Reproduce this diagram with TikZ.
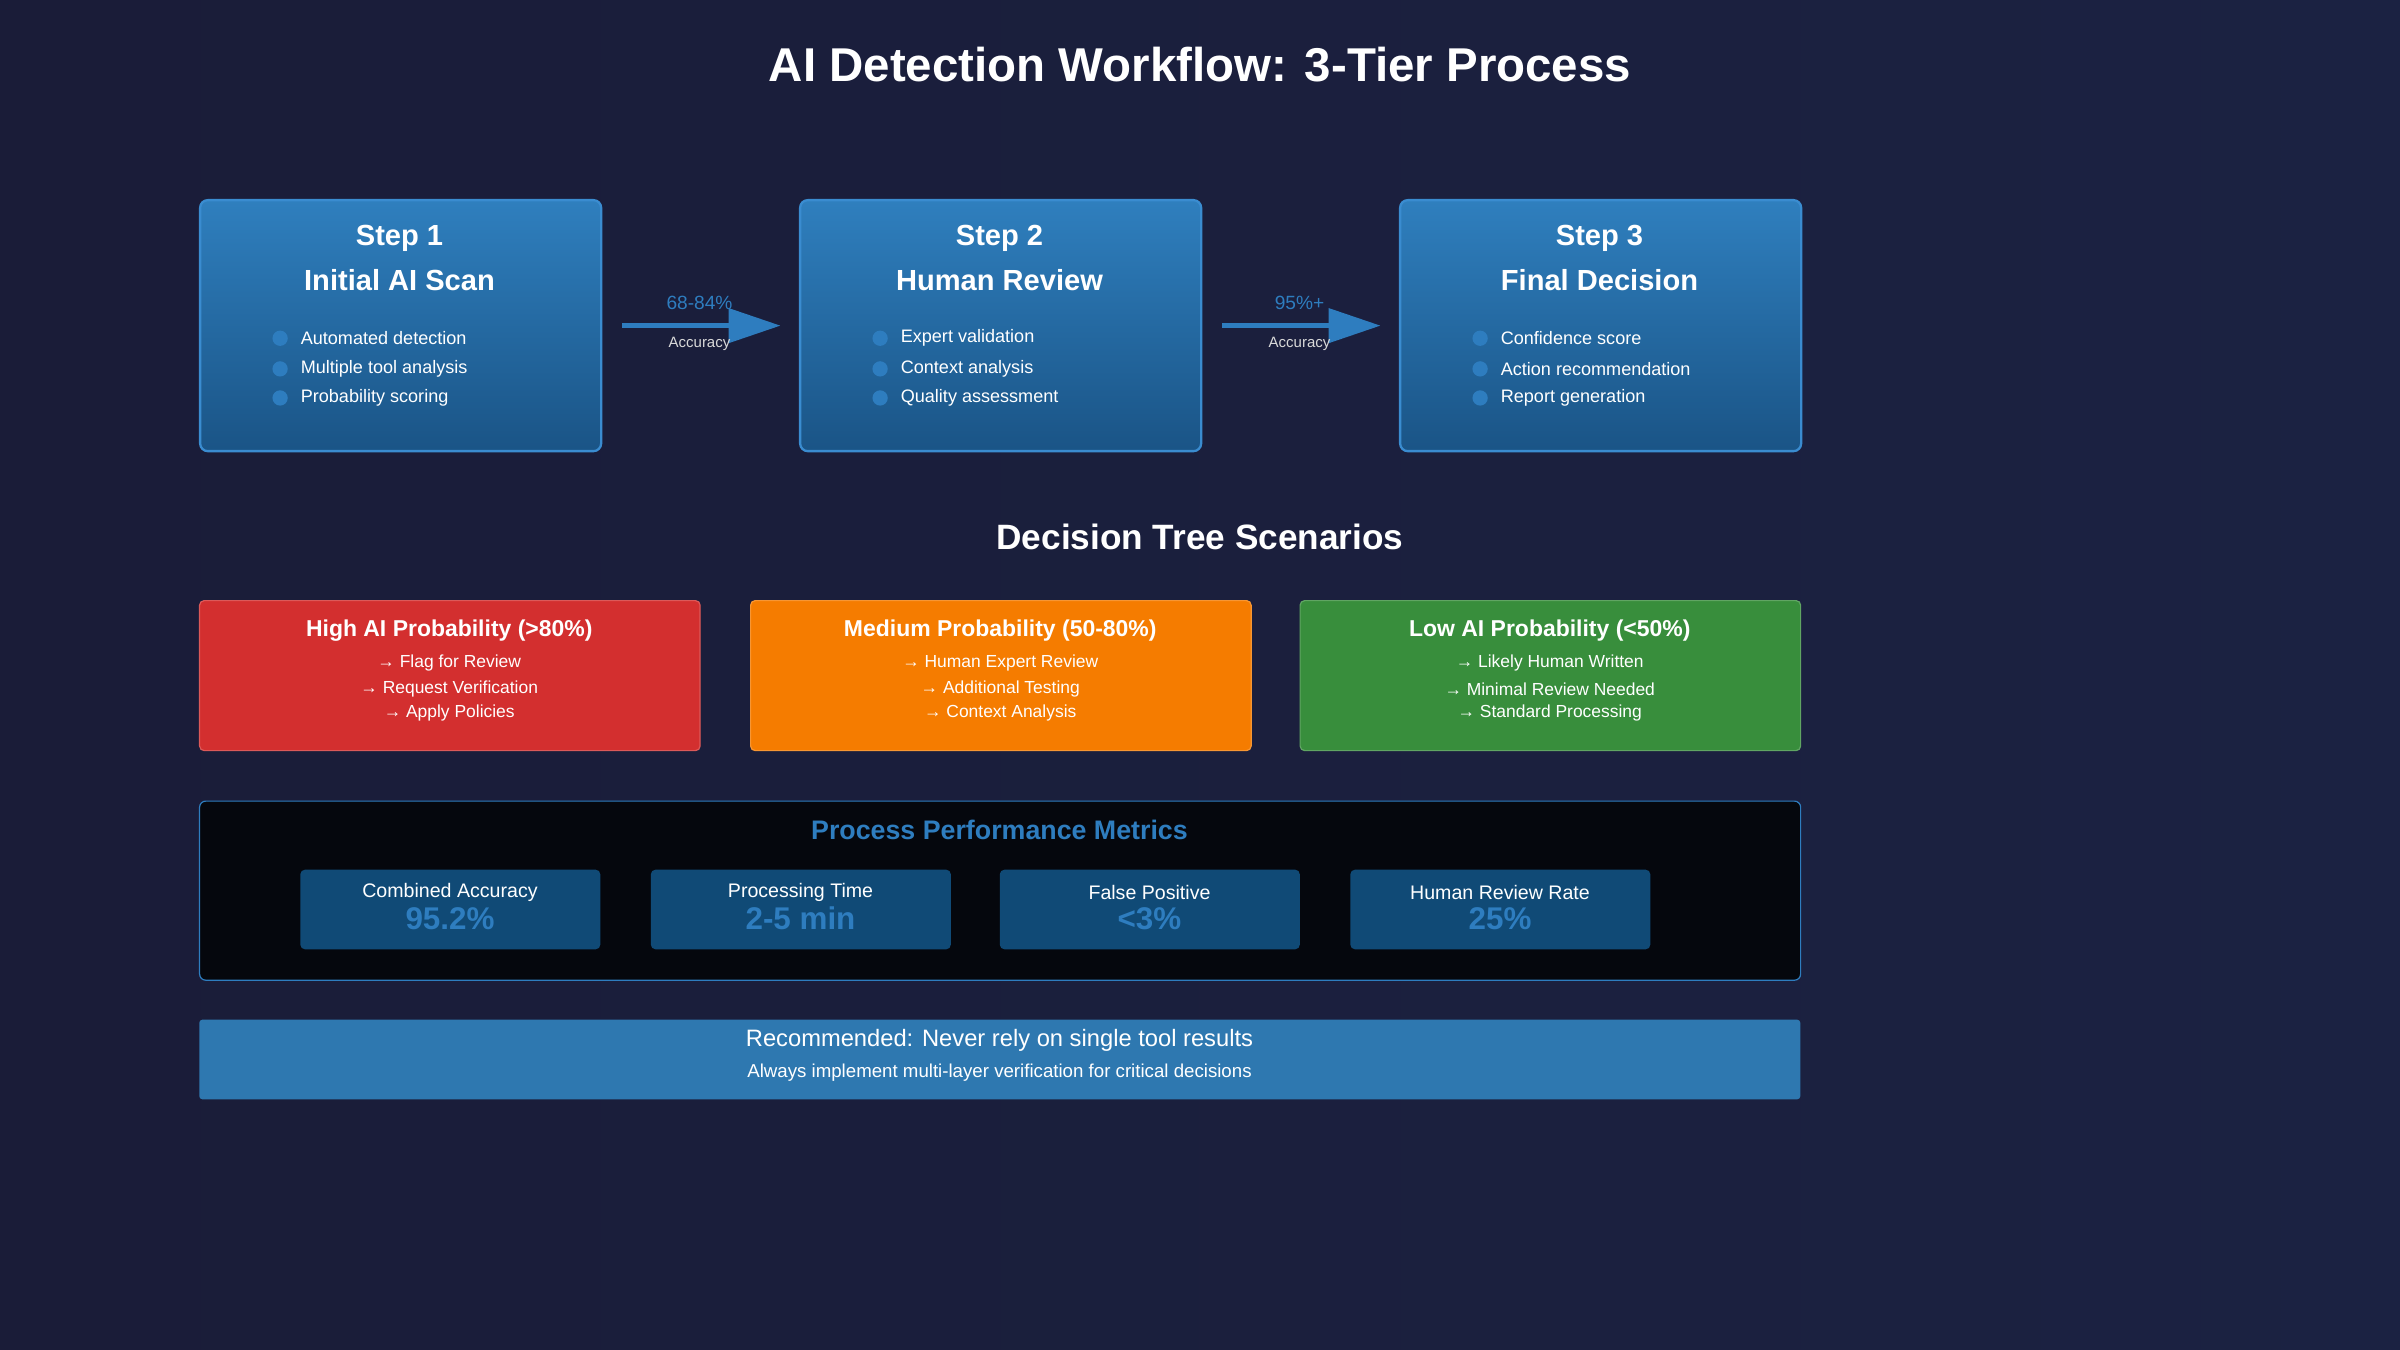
\documentclass[tikz,border=0pt]{standalone}
\usepackage{fontspec}
\setmainfont{Liberation Sans}
\usetikzlibrary{arrows.meta,shadings}
\definecolor{bgA}{HTML}{1A1C38}
\definecolor{bgB}{HTML}{1B2242}
\definecolor{stepT}{HTML}{2F7FBE}
\definecolor{stepB}{HTML}{1A5486}
\definecolor{stepE}{HTML}{3A8CD0}
\definecolor{acc}{HTML}{2E7DBF}
\definecolor{redc}{HTML}{D32F2F}
\definecolor{orac}{HTML}{F57C00}
\definecolor{grnc}{HTML}{388E3C}
\definecolor{card}{HTML}{104A76}
\definecolor{banner}{HTML}{2E78B0}
\definecolor{mbg}{HTML}{05070D}
\tikzset{
 stepbox/.style={draw=stepE,line width=1.5pt,rounded corners=5pt,top color=stepT,bottom color=stepB,minimum width=262pt,minimum height=164pt,anchor=north west},
 scen/.style={rounded corners=3pt,minimum width=327pt,minimum height=98pt,anchor=north west,line width=0.8pt},
 card/.style={fill=card,rounded corners=3pt,minimum width=196pt,minimum height=52pt,anchor=north west},
 flow/.style={draw=acc,line width=3.5pt,-{Triangle[length=34pt,width=22pt]},shorten <=13pt,shorten >=12pt},
 stitle/.style={text=white,font=\bfseries\fontsize{19}{22}\selectfont},
 bul/.style={text=white,font=\fontsize{11.8}{14}\selectfont,anchor=west},
 sc/.style={text=white,font=\fontsize{11.4}{14}\selectfont},
}
\begin{document}
\begin{tikzpicture}[x=1pt,y=-1pt]
\shade[left color=bgA,right color=bgB] (0,0) rectangle (1568,882);
\useasboundingbox (0,0) rectangle (1568,882);
\node[text=white,font=\bfseries\fontsize{31}{36}\selectfont] (title) at (784,42) {AI Detection Workflow: 3-Tier Process};
% steps
\foreach \i/\x/\a/\b/\p/\q/\r in {1/130/Step 1/Initial AI Scan/Automated detection/Multiple tool analysis/Probability scoring,
 2/522/Step 2/Human Review/Expert validation/Context analysis/Quality assessment,
 3/914/Step 3/Final Decision/Confidence score/Action recommendation/Report generation}{
 \node[stepbox] (s\i) at (\x,130) {};
 \node[stitle] (s\i a) at (\x+131,156) {\a};
 \node[stitle] (s\i b) at (\x+131,183) {\b};
 \fill[acc] (\x+53,221) circle (5pt) (\x+53,241) circle (5pt) (\x+53,260) circle (5pt);
 \node[bul] (s\i p) at (\x+63,221) {\p};
 \node[bul] (s\i q) at (\x+63,241) {\q};
 \node[bul] (s\i r) at (\x+63,260) {\r};
}
\draw[flow] (s1.east) -- (s2.west);
\draw[flow] (s2.east) -- (s3.west);
\node[text=acc,font=\fontsize{12.5}{14}\selectfont] (l1) at (457,198) {68-84\%};
\node[text=white!85!black,font=\fontsize{9.8}{12}\selectfont] (l1b) at (457,225) {Accuracy};
\node[text=acc,font=\fontsize{12.5}{14}\selectfont] (l2) at (849,198) {95\%+};
\node[text=white!85!black,font=\fontsize{9.8}{12}\selectfont] (l2b) at (849,225) {Accuracy};
% scenarios
\node[text=white,font=\bfseries\fontsize{23}{27}\selectfont] (dt) at (784,351) {Decision Tree Scenarios};
\foreach \i/\x/\c/\t/\p/\q/\r in {1/130/redc/High AI Probability (>80\%)/Flag for Review/Request Verification/Apply Policies,
 2/490/orac/Medium Probability (50-80\%)/Human Expert Review/Additional Testing/Context Analysis,
 3/849/grnc/Low AI Probability (<50\%)/Likely Human Written/Minimal Review Needed/Standard Processing}{
 \node[scen,fill=\c,draw=\c!80!white] (c\i) at (\x,392) {};
 \node[text=white,font=\bfseries\fontsize{15}{18}\selectfont] (c\i t) at (\x+163.5,412) {\t};
 \node[sc] (c\i p) at (\x+163.5,433) {→ \p};
 \node[sc] (c\i q) at (\x+163.5,450) {→ \q};
 \node[sc] (c\i r) at (\x+163.5,466) {→ \r};
}
% metrics
\node[draw=acc,line width=0.8pt,fill=mbg,rounded corners=4pt,minimum width=1046pt,minimum height=117pt,anchor=north west] (m) at (130,523) {};
\node[text=acc,font=\bfseries\fontsize{17.5}{20}\selectfont] (mt) at (653,542) {Process Performance Metrics};
\foreach \i/\x/\a/\v in {1/196/Combined Accuracy/95.2\%,2/425/Processing Time/2-5 min,3/653/False Positive/<3\%,4/882/Human Review Rate/25\%}{
 \node[card] (k\i) at (\x,568) {};
 \node[text=white,font=\fontsize{12.8}{15}\selectfont] (k\i a) at (\x+98,583) {\a};
 \node[text=acc,font=\bfseries\fontsize{20.5}{23}\selectfont] (k\i v) at (\x+98,600) {\v};
}
% banner
\node[fill=banner,rounded corners=2pt,minimum width=1046pt,minimum height=52pt,anchor=north west] (bn) at (130,666) {};
\node[text=white,font=\fontsize{15.5}{18}\selectfont] (bn1) at (653,680) {Recommended: Never rely on single tool results};
\node[text=white,font=\fontsize{12.2}{14}\selectfont] (bn2) at (653,701) {Always implement multi-layer verification for critical decisions};
\end{tikzpicture}
\end{document}
